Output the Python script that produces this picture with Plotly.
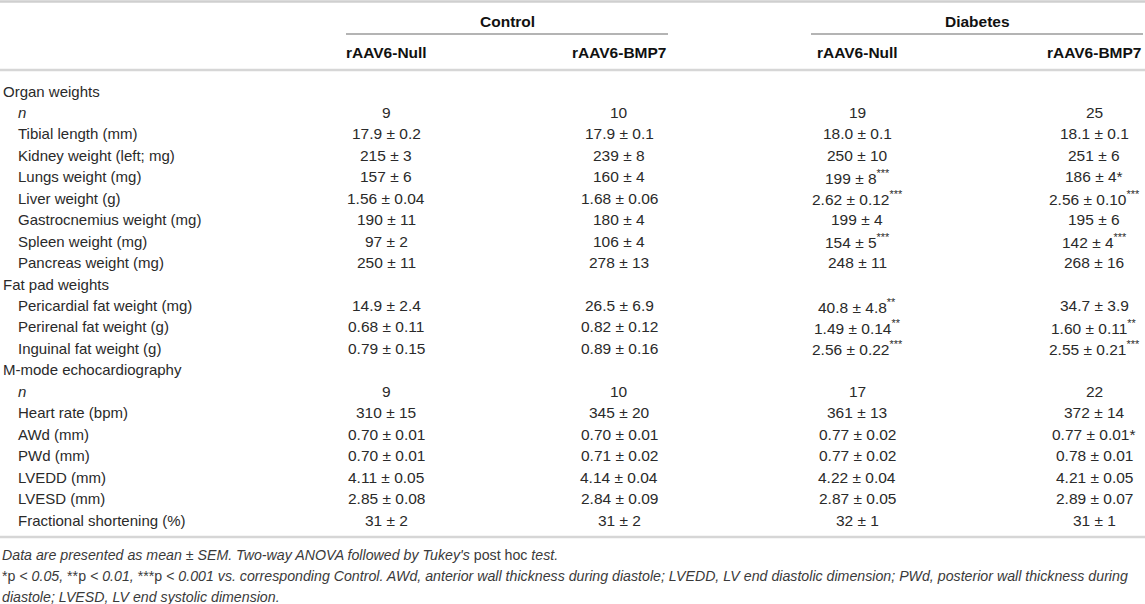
import plotly.graph_objects as go

# table content
row_labels = ['Organ weights', 'n', 'Tibial length (mm)', 'Kidney weight (left; mg)', 'Lungs weight (mg)',
              'Liver weight (g)', 'Gastrocnemius weight (mg)', 'Spleen weight (mg)', 'Pancreas weight (mg)',
              'Fat pad weights', 'Pericardial fat weight (mg)', 'Perirenal fat weight (g)', 'Inguinal fat weight (g)',
              'M-mode echocardiography', 'n', 'Heart rate (bpm)', 'AWd (mm)', 'PWd (mm)', 'LVEDD (mm)',
              'LVESD (mm)', 'Fractional shortening (%)']
section_rows = ['Organ weights', 'Fat pad weights', 'M-mode echocardiography']

ctrl_null = ['', '9', '17.9 ± 0.2', '215 ± 3', '157 ± 6', '1.56 ± 0.04', '190 ± 11', '97 ± 2', '250 ± 11',
             '', '14.9 ± 2.4', '0.68 ± 0.11', '0.79 ± 0.15',
             '', '9', '310 ± 15', '0.70 ± 0.01', '0.70 ± 0.01', '4.11 ± 0.05', '2.85 ± 0.08', '31 ± 2']
ctrl_bmp7 = ['', '10', '17.9 ± 0.1', '239 ± 8', '160 ± 4', '1.68 ± 0.06', '180 ± 4', '106 ± 4', '278 ± 13',
             '', '26.5 ± 6.9', '0.82 ± 0.12', '0.89 ± 0.16',
             '', '10', '345 ± 20', '0.70 ± 0.01', '0.71 ± 0.02', '4.14 ± 0.04', '2.84 ± 0.09', '31 ± 2']
diab_null = ['', '19', '18.0 ± 0.1', '250 ± 10', '199 ± 8', '2.62 ± 0.12', '199 ± 4', '154 ± 5', '248 ± 11',
             '', '40.8 ± 4.8', '1.49 ± 0.14', '2.56 ± 0.22',
             '', '17', '361 ± 13', '0.77 ± 0.02', '0.77 ± 0.02', '4.22 ± 0.04', '2.87 ± 0.05', '32 ± 1']
diab_bmp7 = ['', '25', '18.1 ± 0.1', '251 ± 6', '186 ± 4', '2.56 ± 0.10', '195 ± 6', '142 ± 4', '268 ± 16',
             '', '34.7 ± 3.9', '1.60 ± 0.11', '2.55 ± 0.21',
             '', '22', '372 ± 14', '0.77 ± 0.01', '0.78 ± 0.01', '4.21 ± 0.05', '2.89 ± 0.07', '31 ± 1']
diab_null_sig = ['', '', '', '', '***', '***', '', '***', '', '', '**', '**', '***',
                 '', '', '', '', '', '', '', '']
diab_bmp7_sig = ['', '', '', '', '*', '***', '', '***', '', '', '', '**', '***',
                 '', '', '', '*', '', '', '', '']

groups = ['Control', 'Diabetes']
sub_headers = ['rAAV6-Null', 'rAAV6-BMP7', 'rAAV6-Null', 'rAAV6-BMP7']

footnotes = [
    "<i>Data are presented as mean ± SEM. Two-way ANOVA followed by Tukey's </i>post hoc<i> test.</i>",
    "*p<i> &lt; 0.05, </i>**p<i> &lt; 0.01, </i>***p<i> &lt; 0.001 vs. corresponding Control. AWd, anterior wall "
    "thickness during diastole; LVEDD, LV end diastolic dimension; PWd, posterior wall thickness during</i>",
    "<i>diastole; LVESD, LV end systolic dimension.</i>",
]

W, H = 1145, 604
FONT = 'Liberation Sans, Arial, sans-serif'
col_x = [386, 619, 857, 1094]
group_span = [(346, 668), (811, 1143)]
row_y0, row_dy = 91, 21.45


def cell_text(val, sig):
    if not sig:
        return val
    if sig == '*':
        return f'{val}*'
    return f'{val}<sup>{sig}</sup>'


def main():
    fig = go.Figure()
    ann = []

    # group headers + sub headers
    for gi, g in enumerate(groups):
        cx = sum(group_span[gi]) / 2
        ann.append(dict(x=cx, y=21, text=f'<b>{g}</b>', xanchor='center',
                        font=dict(size=15.5, color='#111111', family=FONT)))
    for ci, s in enumerate(sub_headers):
        ann.append(dict(x=col_x[ci], y=52, text=f'<b>{s}</b>', xanchor='center',
                        font=dict(size=15.5, color='#111111', family=FONT)))

    # body rows
    columns = [ctrl_null, ctrl_bmp7, diab_null, diab_bmp7]
    sigs = [[''] * len(row_labels), [''] * len(row_labels), diab_null_sig, diab_bmp7_sig]
    for i, lab in enumerate(row_labels):
        y = row_y0 + i * row_dy
        is_sec = lab in section_rows
        txt = f'<i>{lab}</i>' if lab == 'n' else lab
        ann.append(dict(x=1 if is_sec else 16, y=y, text=txt, xanchor='left',
                        font=dict(size=15, color='#2a2a2a', family=FONT)))
        for ci, col in enumerate(columns):
            if col[i]:
                ann.append(dict(x=col_x[ci], y=y, text=cell_text(col[i], sigs[ci][i]), xanchor='center',
                                font=dict(size=15.5, color='#2a2a2a', family=FONT)))

    # footnotes
    for fi, ft in enumerate(footnotes):
        ann.append(dict(x=0, y=555 + fi * 21, text=ft, xanchor='left',
                        font=dict(size=14.2, color='#3a3a3a', family=FONT)))

    for a in ann:
        a.update(xref='x', yref='y', showarrow=False, yanchor='middle')

    # table rules
    bottom_y = row_y0 + (len(row_labels) - 1) * row_dy + 17
    shapes = [
        dict(type='line', x0=0, x1=W, y0=1.5, y1=1.5, line=dict(color='#cfcfcf', width=2.5)),
        dict(type='line', x0=group_span[0][0], x1=group_span[0][1], y0=34, y1=34,
             line=dict(color='#6a6a6a', width=1.2)),
        dict(type='line', x0=group_span[1][0], x1=group_span[1][1], y0=34, y1=34,
             line=dict(color='#6a6a6a', width=1.2)),
        dict(type='line', x0=0, x1=W, y0=70, y1=70, line=dict(color='#d6d6d6', width=2.5)),
        dict(type='line', x0=0, x1=W, y0=bottom_y, y1=bottom_y, line=dict(color='#d6d6d6', width=2.5)),
    ]
    for s in shapes:
        s.update(xref='x', yref='y')

    fig.update_layout(
        width=W, height=H,
        margin=dict(l=0, r=0, t=0, b=0),
        paper_bgcolor='white', plot_bgcolor='white',
        xaxis=dict(range=[0, W], visible=False, fixedrange=True),
        yaxis=dict(range=[H, 0], visible=False, fixedrange=True),
        annotations=ann, shapes=shapes,
        showlegend=False,
    )
    # drop the page's default body margin so the table sits at the window corner
    fig.write_html('out.html', config={'displayModeBar': False},
                   post_script="document.body.style.margin='0';")
    return 0


if __name__ == '__main__':
    main()
